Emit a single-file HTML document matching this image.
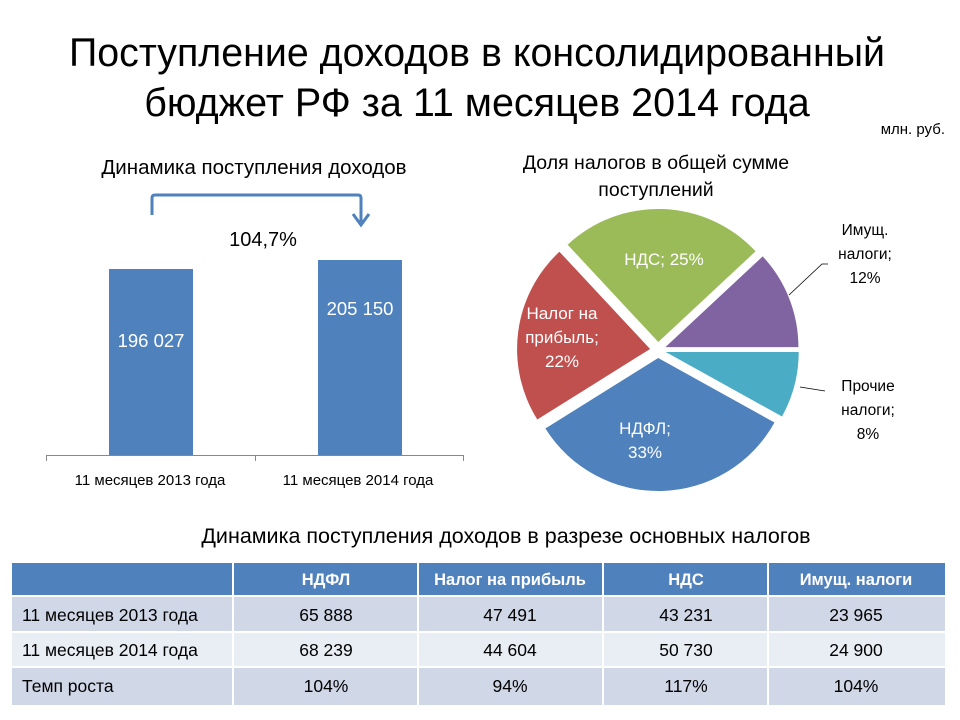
<!DOCTYPE html>
<html><head><meta charset="utf-8"><style>
body{margin:0;background:#fff;}
svg{display:block;font-family:"Liberation Sans","DejaVu Sans",sans-serif;}
</style></head><body>
<svg width="960" height="720" viewBox="0 0 960 720" xmlns="http://www.w3.org/2000/svg">
<rect width="960" height="720" fill="#fff"/>
<text x="477" y="66" font-size="39.5" text-anchor="middle" fill="#000" textLength="816" lengthAdjust="spacingAndGlyphs">Поступление доходов в консолидированный</text>
<text x="477" y="116" font-size="39.5" text-anchor="middle" fill="#000">бюджет РФ за 11 месяцев 2014 года</text>
<text x="945" y="134" font-size="15" text-anchor="end" fill="#000">млн. руб.</text>

<text x="254" y="174" font-size="20.5" text-anchor="middle" fill="#000">Динамика поступления доходов</text>
<path d="M152,215 V198 Q152,195 155,195 H358 Q361,195 361,198 V222" fill="none" stroke="#4f81bd" stroke-width="3"/>
<path d="M353,214 L361,225 L369,214" fill="none" stroke="#4f81bd" stroke-width="3"/>
<text x="263" y="246" font-size="20" text-anchor="middle" fill="#000">104,7%</text>
<rect x="109" y="269" width="84" height="186" fill="#4f81bd"/>
<rect x="318" y="260" width="84" height="195" fill="#4f81bd"/>
<text x="151" y="347" font-size="18.5" text-anchor="middle" fill="#fff">196 027</text>
<text x="360" y="315" font-size="18.5" text-anchor="middle" fill="#fff">205 150</text>
<path d="M46,455.5 H463 M46.5,455 V461 M255.5,455 V461 M463.5,455 V461" stroke="#888" stroke-width="1"/>
<text x="150" y="485" font-size="15" text-anchor="middle" fill="#000">11 месяцев  2013 года</text>
<text x="358" y="485" font-size="15" text-anchor="middle" fill="#000">11 месяцев  2014 года</text>

<text x="656" y="169" font-size="19.5" text-anchor="middle" fill="#000">Доля налогов в общей сумме</text>
<text x="656" y="196" font-size="19.5" text-anchor="middle" fill="#000">поступлений</text>
<path d="M665.4,347.1 L762.7,256.4 A133,133 0 0 1 798.4,347.1 Z" fill="#8064a2"/>
<path d="M665.7,352 L798.7,352 A133,133 0 0 1 782,416.5 Z" fill="#4bacc6"/>
<path d="M658.2,358 L774.5,422.5 A133,133 0 0 1 545.4,428.5 Z" fill="#4f81bd"/>
<path d="M650.1,349 L537.3,419.5 A133,133 0 0 1 559.4,251.7 Z" fill="#c0504d"/>
<path d="M658.3,342 L567.6,244.7 A133,133 0 0 1 755.6,251.3 Z" fill="#9bbb59"/>
<text x="664" y="265" font-size="17" text-anchor="middle" fill="#fff">НДС; 25%</text>
<text x="562" y="319" font-size="17" text-anchor="middle" fill="#fff">Налог на</text>
<text x="562" y="343" font-size="17" text-anchor="middle" fill="#fff">прибыль;</text>
<text x="562" y="367" font-size="17" text-anchor="middle" fill="#fff">22%</text>
<text x="645" y="434" font-size="17" text-anchor="middle" fill="#fff">НДФЛ;</text>
<text x="645" y="458" font-size="17" text-anchor="middle" fill="#fff">33%</text>
<path d="M789,295 L822,264 H828" fill="none" stroke="#000" stroke-width="0.8"/>
<path d="M800,387 L825,391" fill="none" stroke="#000" stroke-width="0.8"/>
<text x="865" y="235" font-size="15.5" text-anchor="middle" fill="#000">Имущ.</text>
<text x="865" y="259" font-size="15.5" text-anchor="middle" fill="#000">налоги;</text>
<text x="865" y="283" font-size="15.5" text-anchor="middle" fill="#000">12%</text>
<text x="868" y="391" font-size="15.5" text-anchor="middle" fill="#000">Прочие</text>
<text x="868" y="415" font-size="15.5" text-anchor="middle" fill="#000">налоги;</text>
<text x="868" y="439" font-size="15.5" text-anchor="middle" fill="#000">8%</text>

<text x="506" y="543" font-size="21.5" text-anchor="middle" fill="#000">Динамика поступления доходов  в разрезе основных налогов</text>
<rect x="12" y="563" width="933" height="32" fill="#4f81bd"/>
<rect x="12" y="597" width="933" height="34" fill="#d0d8e8"/>
<rect x="12" y="633" width="933" height="33" fill="#e9edf4"/>
<rect x="12" y="668" width="933" height="37" fill="#d0d8e8"/>
<path d="M233,563 V705 M418,563 V705 M603,563 V705 M768,563 V705" stroke="#fff" stroke-width="2"/>
<g font-size="16.5" text-anchor="middle" fill="#fff" font-weight="bold">
<text x="326" y="585">НДФЛ</text><text x="510" y="585">Налог на прибыль</text><text x="686" y="585">НДС</text><text x="856" y="585">Имущ. налоги</text>
</g>
<g font-size="17.5" fill="#000">
<text x="22" y="621">11 месяцев 2013 года</text><text x="22" y="656">11 месяцев 2014 года</text><text x="22" y="692">Темп роста</text>
</g>
<g font-size="17.5" fill="#000" text-anchor="middle">
<text x="326" y="621">65 888</text><text x="510" y="621">47 491</text><text x="686" y="621">43 231</text><text x="856" y="621">23 965</text>
<text x="326" y="656">68 239</text><text x="510" y="656">44 604</text><text x="686" y="656">50 730</text><text x="856" y="656">24 900</text>
<text x="326" y="692">104%</text><text x="510" y="692">94%</text><text x="686" y="692">117%</text><text x="856" y="692">104%</text>
</g>
</svg>
</body></html>
